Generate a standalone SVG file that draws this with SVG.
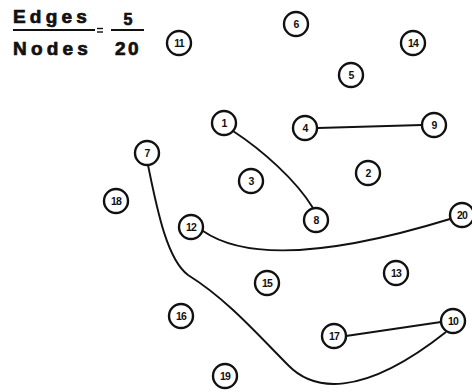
<svg xmlns="http://www.w3.org/2000/svg" width="472" height="392" viewBox="0 0 472 392">
<style>
.n circle{fill:#fff;stroke:#111;stroke-width:2.4}
.n text{font-family:"Liberation Sans",Arial,sans-serif;font-size:10.5px;font-weight:bold;fill:#111;text-anchor:middle;dominant-baseline:central;letter-spacing:-0.8px}
.e{fill:none;stroke:#111;stroke-width:1.9}
.t{font-family:"Liberation Sans",Arial,sans-serif;font-size:19px;font-weight:bold;fill:#111;stroke:#111;stroke-width:0.7;letter-spacing:4.2px}
</style>
<rect width="472" height="392" fill="#fff"/>
<g id="title">
<text class="t" x="13" y="23">Edges</text>
<line x1="13" y1="30" x2="95" y2="30" stroke="#111" stroke-width="2.2"/>
<text class="t" x="13" y="55">Nodes</text>
<line x1="97" y1="28.5" x2="103" y2="28.5" stroke="#111" stroke-width="1.4"/>
<line x1="97" y1="32" x2="103" y2="32" stroke="#111" stroke-width="1.4"/>
<text class="t" x="128" y="25" text-anchor="middle" style="letter-spacing:0;font-size:16px">5</text>
<line x1="111" y1="30" x2="144" y2="30" stroke="#111" stroke-width="2.2"/>
<text class="t" x="128" y="55" text-anchor="middle" style="letter-spacing:2.5px">20</text>
</g>
<g id="edges">
<path class="e" d="M233,131 C262,150 296,180 313,208"/>
<path class="e" d="M318,128 L422,125"/>
<path class="e" d="M203,231 C235,253 300,265 450,219"/>
<path class="e" d="M148,165 C158,215 168,260 188,275 C228,300 258,335 288,365 C312,390 360,400 446,332"/>
<path class="e" d="M346,336 L441,322"/>
</g>
<g id="n11" class="n"><circle cx="179" cy="43" r="12"/><text x="179" y="43">11</text></g>
<g id="n6" class="n"><circle cx="296" cy="24" r="12"/><text x="296" y="24">6</text></g>
<g id="n14" class="n"><circle cx="413" cy="43" r="12"/><text x="413" y="43">14</text></g>
<g id="n5" class="n"><circle cx="351" cy="75" r="12"/><text x="351" y="75">5</text></g>
<g id="n1" class="n"><circle cx="224" cy="123" r="12"/><text x="224" y="123">1</text></g>
<g id="n4" class="n"><circle cx="305" cy="128" r="12"/><text x="305" y="128">4</text></g>
<g id="n9" class="n"><circle cx="434" cy="125" r="12"/><text x="434" y="125">9</text></g>
<g id="n7" class="n"><circle cx="147" cy="153" r="12"/><text x="147" y="153">7</text></g>
<g id="n3" class="n"><circle cx="251" cy="181" r="12"/><text x="251" y="181">3</text></g>
<g id="n2" class="n"><circle cx="368" cy="173" r="12"/><text x="368" y="173">2</text></g>
<g id="n18" class="n"><circle cx="116" cy="201" r="12"/><text x="116" y="201">18</text></g>
<g id="n8" class="n"><circle cx="316" cy="220" r="12"/><text x="316" y="220">8</text></g>
<g id="n12" class="n"><circle cx="191" cy="227" r="12"/><text x="191" y="227">12</text></g>
<g id="n20" class="n"><circle cx="462" cy="215" r="12"/><text x="462" y="215">20</text></g>
<g id="n15" class="n"><circle cx="267" cy="283" r="12"/><text x="267" y="283">15</text></g>
<g id="n13" class="n"><circle cx="396" cy="273" r="12"/><text x="396" y="273">13</text></g>
<g id="n16" class="n"><circle cx="181" cy="316" r="12"/><text x="181" y="316">16</text></g>
<g id="n17" class="n"><circle cx="334" cy="336" r="12"/><text x="334" y="336">17</text></g>
<g id="n10" class="n"><circle cx="453" cy="321" r="12"/><text x="453" y="321">10</text></g>
<g id="n19" class="n"><circle cx="225" cy="376" r="12"/><text x="225" y="376">19</text></g>
</svg>
